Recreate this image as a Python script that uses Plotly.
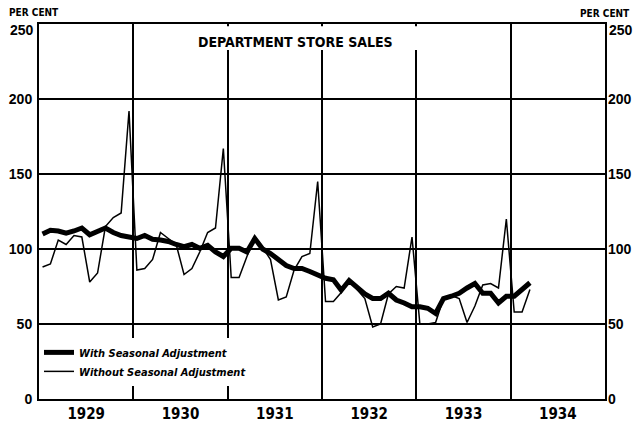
import plotly.graph_objects as go

# ---- data (monthly, Jan 1929 .. Mar 1934), index 1923-25 = 100 ----
years = [1929, 1930, 1931, 1932, 1933, 1934]
year_labels = ["1929", "1930", "1931", "1932", "1933", "1934"]

adjusted = [
    110, 112.5, 112, 110.5, 112, 114, 109.5, 111.5, 114, 111, 109, 108,      # 1929
    107, 109, 106.5, 106, 105, 103, 101.5, 103, 100.5, 102.5, 98, 95,         # 1930
    100.5, 100.5, 98, 107, 100, 97, 93, 89, 87, 87, 85, 82.5,                 # 1931
    80.5, 79.5, 72.5, 79, 74, 70, 67, 67, 70.5, 66, 64, 61.5,                 # 1932
    61.5, 60.5, 57, 67, 68.5, 70.5, 74, 77, 70.5, 70.5, 64, 68.5,             # 1933
    68.5, 72.5, 77.5,                                                          # 1934
]
unadjusted = [
    88, 90, 106, 103, 109, 108, 78, 84, 115, 121, 124, 192,                    # 1929
    86, 87, 93, 111, 107, 103, 83, 87, 98, 111, 114, 167,                      # 1930
    81, 81, 95, 108, 101, 93, 66, 68, 86, 95, 97, 145,                         # 1931
    65, 65, 71, 79, 73, 67, 48, 50, 70, 75, 74, 108,                           # 1932
    50, 50, 51, 67, 69, 67, 51, 62, 76, 77, 74, 120,                           # 1933
    58, 58, 73,                                                                # 1934
]
y_ticks = [0, 50, 100, 150, 200]
y_top = 250

# month positions as fractional years (mid-month)
x_pos = [years[0] + (i + 0.45) / 12 for i in range(len(adjusted))]

NARROW = "Liberation Sans Narrow, DejaVu Sans Condensed, Roboto Condensed, Arial Narrow, sans-serif"
BOLD = "Liberation Sans, Arial, DejaVu Sans, sans-serif"
tick_font = dict(family=BOLD, size=14, color="black", weight="bold")

fig = go.Figure()
fig.add_trace(go.Scatter(
    x=x_pos, y=unadjusted, mode="lines", name="Without Seasonal Adjustment",
    line=dict(color="black", width=1.5), legendrank=2))
fig.add_trace(go.Scatter(
    x=x_pos, y=adjusted, mode="lines", name="With Seasonal Adjustment",
    line=dict(color="black", width=5), legendrank=1))
# invisible trace to drive the right-hand axis
fig.add_trace(go.Scatter(
    x=x_pos, y=adjusted, mode="lines", yaxis="y2", showlegend=False,
    hoverinfo="skip", line=dict(width=0), opacity=0))

fig.update_layout(
    width=637, height=426,
    margin=dict(l=39, r=32, t=24, b=27, autoexpand=False),
    paper_bgcolor="white", plot_bgcolor="white",
    showlegend=True,
    legend=dict(
        x=0.0, y=0.163, xanchor="left", yanchor="top",
        bgcolor="white", borderwidth=0,
        font=dict(family=NARROW, size=11, color="black", style="italic", weight="bold"),
        itemwidth=30, tracegroupgap=0,
    ),
    xaxis=dict(
        range=[years[0], years[-1] + 1], automargin=False,
        tickmode="array",
        tickvals=[y + 0.5 for y in years], ticktext=year_labels,
        ticks="", showgrid=False, zeroline=False,
        showline=True, linecolor="black", linewidth=2, mirror=True,
        tickfont=dict(family=NARROW, size=15, color="black", weight="bold"),
        minor=dict(tickmode="array", tickvals=years[1:], showgrid=True,
                   gridcolor="black", gridwidth=1.5, ticks=""),
    ),
    yaxis=dict(
        range=[0, y_top], tickmode="array", tickvals=y_ticks, automargin=False,
        ticks="", showgrid=True, gridcolor="black", gridwidth=1.5,
        zeroline=False, showline=True, linecolor="black", linewidth=2, mirror=True,
        tickfont=tick_font, ticklabelstandoff=2,
    ),
    yaxis2=dict(
        range=[0, y_top], tickmode="array", tickvals=y_ticks, overlaying="y",
        side="right", ticks="", showgrid=False, zeroline=False, showline=False,
        automargin=False, tickfont=tick_font, ticklabelstandoff=2,
    ),
    shapes=[dict(type="rect", xref="paper", yref="paper",
                 x0=0.284, x1=0.675, y0=0.931, y1=0.994,
                 fillcolor="white", line=dict(width=0), layer="above")],
    annotations=[
        dict(text="DEPARTMENT STORE SALES", xref="paper", yref="paper",
             x=0.454, y=0.952, showarrow=False, xanchor="center", yanchor="middle",
             font=dict(family=NARROW, size=14, color="black", weight="bold")),
        dict(text="PER CENT", xref="paper", yref="paper",
             x=-0.057, y=1.031, showarrow=False, xanchor="left", yanchor="middle",
             font=dict(family=NARROW, size=10, color="black", weight="bold")),
        dict(text="PER CENT", xref="paper", yref="paper",
             x=0.952, y=1.028, showarrow=False, xanchor="left", yanchor="middle",
             font=dict(family=NARROW, size=10, color="black", weight="bold")),
        # top value labels, set a little below the top edge as in the original
        dict(text=str(y_top), xref="paper", yref="y", x=0, y=y_top,
             xanchor="right", yanchor="middle", xshift=-3, yshift=-6,
             showarrow=False, font=tick_font),
        dict(text=str(y_top), xref="paper", yref="y", x=1, y=y_top,
             xanchor="left", yanchor="middle", xshift=2, yshift=-6,
             showarrow=False, font=tick_font),
    ],
)

# remove the browser's default 8px page margin so the figure sits at (0, 0)
fig.write_html("out.html", config={"displayModeBar": False},
               post_script="document.body.style.margin='0';document.body.style.overflow='hidden';")
